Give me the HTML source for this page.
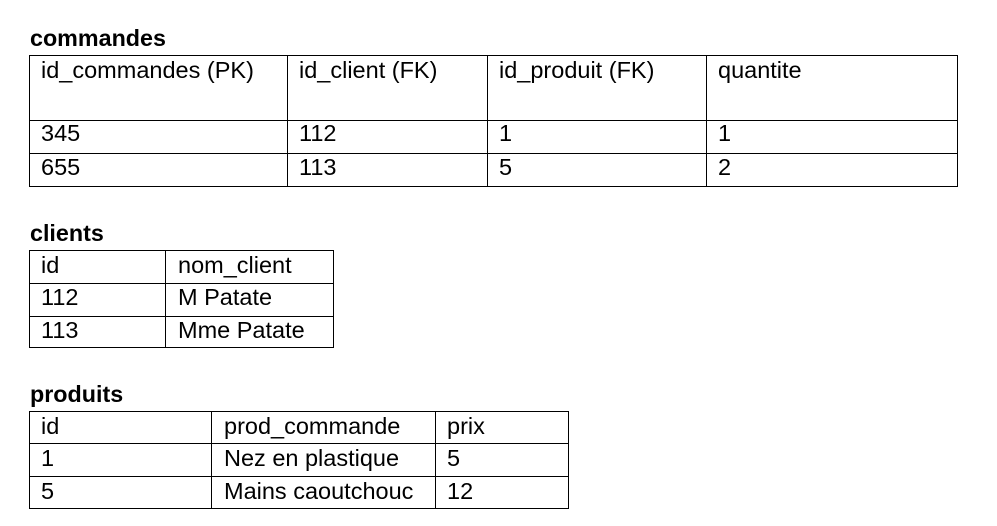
<!DOCTYPE html><html><head><style>
body{margin:0;width:997px;height:526px;background:#fff;position:relative;font-family:"Liberation Sans",Arial,sans-serif;color:#000;overflow:hidden}
.t{position:absolute;font-size:23.5px;line-height:26px;white-space:nowrap}
.b{font-weight:bold;font-size:23.3px}
.h{position:absolute;height:1px;background:#000}
.v{position:absolute;width:1px;background:#000}
</style></head><body>
<div class="t b" style="left:30px;top:25px">commandes</div>
<div class="h" style="left:29px;top:55px;width:929px"></div>
<div class="h" style="left:29px;top:120px;width:929px"></div>
<div class="h" style="left:29px;top:153px;width:929px"></div>
<div class="h" style="left:29px;top:186px;width:929px"></div>
<div class="v" style="left:29px;top:55px;height:132px"></div>
<div class="v" style="left:287px;top:55px;height:132px"></div>
<div class="v" style="left:487px;top:55px;height:132px"></div>
<div class="v" style="left:706px;top:55px;height:132px"></div>
<div class="v" style="left:957px;top:55px;height:132px"></div>
<div class="t" style="left:41px;top:57px">id_commandes (PK)</div>
<div class="t" style="left:299px;top:57px">id_client (FK)</div>
<div class="t" style="left:499px;top:57px">id_produit (FK)</div>
<div class="t" style="left:718px;top:57px">quantite</div>
<div class="t" style="left:41px;top:120px">345</div>
<div class="t" style="left:299px;top:120px">112</div>
<div class="t" style="left:499px;top:120px">1</div>
<div class="t" style="left:718px;top:120px">1</div>
<div class="t" style="left:41px;top:154px">655</div>
<div class="t" style="left:299px;top:154px">113</div>
<div class="t" style="left:499px;top:154px">5</div>
<div class="t" style="left:718px;top:154px">2</div>

<div class="t b" style="left:30px;top:220px">clients</div>
<div class="h" style="left:29px;top:250px;width:305px"></div>
<div class="h" style="left:29px;top:283px;width:305px"></div>
<div class="h" style="left:29px;top:316px;width:305px"></div>
<div class="h" style="left:29px;top:347px;width:305px"></div>
<div class="v" style="left:29px;top:250px;height:98px"></div>
<div class="v" style="left:165px;top:250px;height:98px"></div>
<div class="v" style="left:333px;top:250px;height:98px"></div>
<div class="t" style="left:41px;top:252px">id</div>
<div class="t" style="left:178px;top:252px">nom_client</div>
<div class="t" style="left:41px;top:284px">112</div>
<div class="t" style="left:178px;top:284px">M Patate</div>
<div class="t" style="left:41px;top:317px">113</div>
<div class="t" style="left:178px;top:317px">Mme Patate</div>

<div class="t b" style="left:30px;top:381px">produits</div>
<div class="h" style="left:29px;top:411px;width:540px"></div>
<div class="h" style="left:29px;top:443px;width:540px"></div>
<div class="h" style="left:29px;top:476px;width:540px"></div>
<div class="h" style="left:29px;top:508px;width:540px"></div>
<div class="v" style="left:29px;top:411px;height:98px"></div>
<div class="v" style="left:211px;top:411px;height:98px"></div>
<div class="v" style="left:435px;top:411px;height:98px"></div>
<div class="v" style="left:568px;top:411px;height:98px"></div>
<div class="t" style="left:41px;top:413px">id</div>
<div class="t" style="left:224px;top:413px">prod_commande</div>
<div class="t" style="left:447px;top:413px">prix</div>
<div class="t" style="left:41px;top:445px">1</div>
<div class="t" style="left:224px;top:445px">Nez en plastique</div>
<div class="t" style="left:447px;top:445px">5</div>
<div class="t" style="left:41px;top:478px">5</div>
<div class="t" style="left:224px;top:478px">Mains caoutchouc</div>
<div class="t" style="left:447px;top:478px">12</div>
</body></html>
